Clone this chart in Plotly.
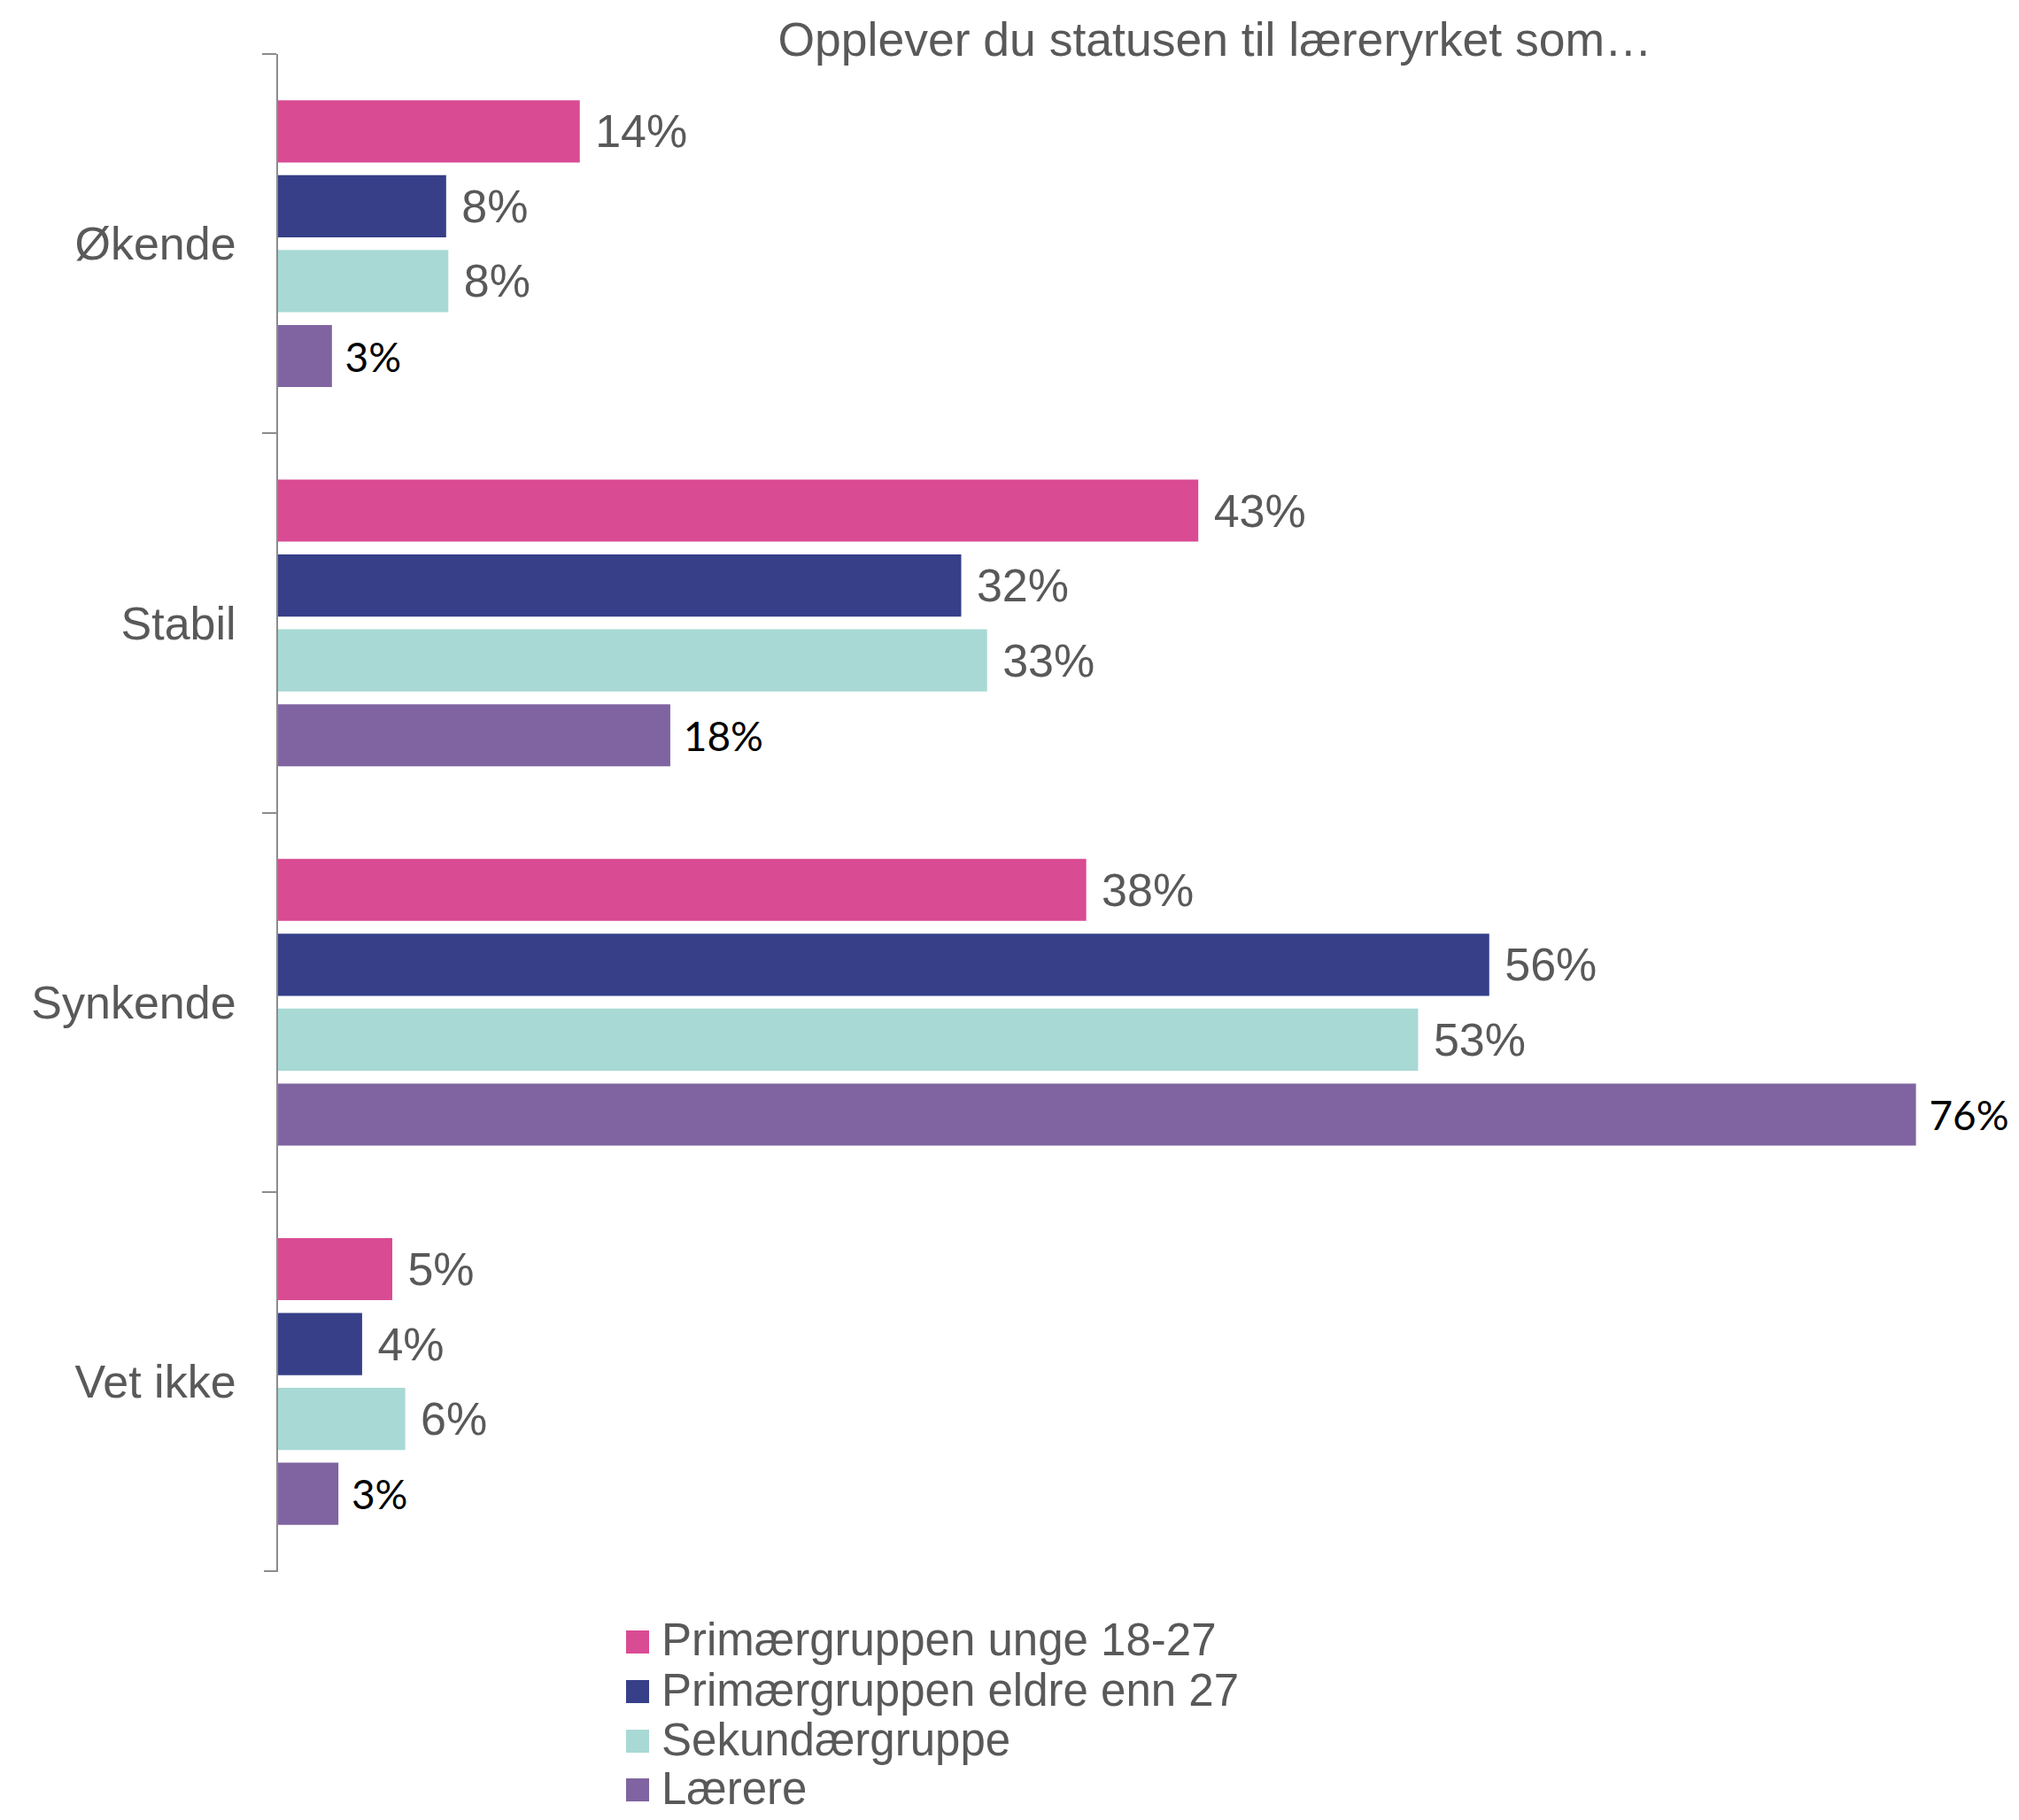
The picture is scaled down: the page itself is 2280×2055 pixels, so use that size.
import plotly.graph_objects as go

# categories (top to bottom) and series
categories = ["Økende", "Stabil", "Synkende", "Vet ikke"]
series_names = [
    "Primærgruppen unge 18-27",
    "Primærgruppen eldre enn 27",
    "Sekundærgruppe",
    "Lærere",
]

# bar lengths (percent)
unge = [14.0, 42.7, 37.5, 5.3]
eldre = [7.8, 31.7, 56.2, 3.9]
sekundar = [7.9, 32.9, 52.9, 5.9]
larere = [2.5, 18.2, 76.0, 2.8]

# printed data labels
unge_labels = ["14%", "43%", "38%", "5%"]
eldre_labels = ["8%", "32%", "56%", "4%"]
sekundar_labels = ["8%", "33%", "53%", "6%"]
larere_labels = ["3%", "18%", "76%", "3%"]

colors = ["#D94B93", "#363F88", "#A8D9D5", "#8064A1"]

W, H = 2280, 2055
L, R, T, B = 314, 19, 61, 281
GRAY = "#595959"
AXIS_GRAY = "#8C8C8C"
FONT = "Liberation Sans, Arial, sans-serif"

fig = go.Figure()

all_values = [unge, eldre, sekundar, larere]
all_labels = [unge_labels, eldre_labels, sekundar_labels, larere_labels]

for i, (name, vals, labels) in enumerate(zip(series_names, all_values, all_labels)):
    if i == 3:
        tfont = dict(family="Lato, Noto Sans, sans-serif", size=46, color="black")
    else:
        tfont = dict(family=FONT, size=52, color=GRAY)
    fig.add_trace(go.Bar(
        name=name,
        y=categories,
        x=vals,
        orientation="h",
        marker=dict(color=colors[i], line=dict(width=0)),
        text=["\u00a0" + t for t in labels],
        textposition="outside",
        textfont=tfont,
        constraintext="none",
        cliponaxis=False,
        showlegend=False,
        hoverinfo="skip",
    ))

# hand-built legend so the squares can be as large as in the original
plot_w = W - L - R
plot_h = H - T - B


def px_x(px):
    return (px - L) / plot_w


def px_y(py):
    return (H - B - py) / plot_h


legend_rows = [1854, 1910, 1966, 2021]
for name, col, cy in zip(series_names, colors, legend_rows):
    fig.add_shape(
        type="rect", xref="paper", yref="paper",
        x0=px_x(707), x1=px_x(733),
        y0=px_y(cy + 13), y1=px_y(cy - 13),
        fillcolor=col, line=dict(width=0),
    )
    fig.add_annotation(
        xref="paper", yref="paper",
        x=px_x(745), y=px_y(cy - 2),
        text=name, showarrow=False,
        xanchor="left", yanchor="middle",
        font=dict(family=FONT, size=51, color=GRAY),
    )

# closing tick at the bottom end of the category axis
fig.add_shape(
    type="line", xref="paper", yref="paper",
    x0=px_x(L - 16), x1=0, y0=0, y1=0,
    line=dict(color=AXIS_GRAY, width=2),
)

fig.update_layout(
    width=W,
    height=H,
    barmode="group",
    bargap=0.21,
    bargroupgap=0.17,
    title=dict(
        text="Opplever du statusen til læreryrket som…",
        x=1372 / W, xref="container", xanchor="center",
        y=1 - 44 / H, yref="container", yanchor="middle",
        font=dict(family=FONT, size=53.5, color=GRAY),
    ),
    xaxis=dict(
        range=[0, 80],
        visible=False,
    ),
    yaxis=dict(
        range=[3.5001, -0.5001],
        showline=True,
        linecolor=AXIS_GRAY,
        linewidth=2,
        ticks="outside",
        tickson="boundaries",
        ticklen=16,
        tickwidth=2,
        tickcolor=AXIS_GRAY,
        ticklabelstandoff=35,
        tickfont=dict(family=FONT, size=52, color=GRAY),
        showgrid=False,
        zeroline=False,
    ),
    plot_bgcolor="white",
    paper_bgcolor="white",
    margin=dict(l=L, r=R, t=T, b=B, pad=0, autoexpand=False),
)

# drop the default page margin so the figure sits at the top-left corner
fig.write_html(
    "out.html",
    config={"displayModeBar": False},
    post_script="document.body.style.margin='0';",
)
